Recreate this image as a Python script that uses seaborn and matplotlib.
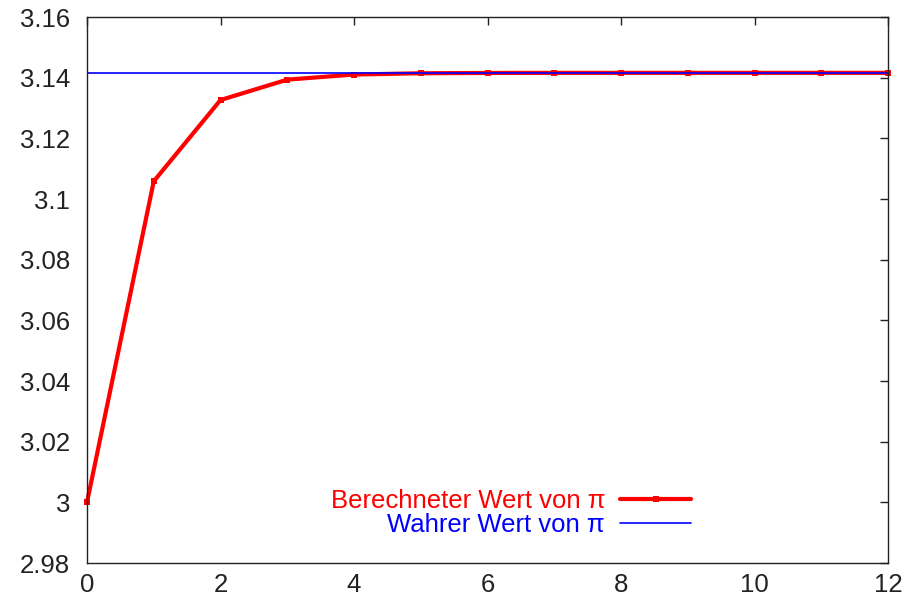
import matplotlib
matplotlib.use("Agg")
import matplotlib.pyplot as plt
import seaborn as sns
import numpy as np
import pandas as pd

steps = [0, 1, 2, 3, 4, 5, 6, 7, 8, 9, 10, 11, 12]
computed = [3.0, 3.105829, 3.132629, 3.139350, 3.141032, 3.141452, 3.141558,
            3.141584, 3.141590, 3.141592, 3.141593, 3.141593, 3.141593]
true_pi = [3.141593] * 13
yticks = [2.98, 3.0, 3.02, 3.04, 3.06, 3.08, 3.1, 3.12, 3.14, 3.16]
ytick_labels = ["2.98", "3", "3.02", "3.04", "3.06", "3.08", "3.1", "3.12", "3.14", "3.16"]
xticks = [0, 2, 4, 6, 8, 10, 12]

sns.set_style("white")
plt.rcParams['font.family'] = ['Liberation Sans', 'DejaVu Sans']

fig = plt.figure(figsize=(9.08, 6.0), dpi=100)
ax = fig.add_axes([87/908, 1-563/600, (888-87)/908, (563-17)/600])

df = pd.DataFrame({"n": steps, "computed": computed, "true": true_pi})
sns.lineplot(data=df, x="n", y="computed", ax=ax, color="#ff0000", linewidth=3,
             marker="s", markersize=5, markeredgewidth=0, label="Berechneter Wert von π",
             clip_on=False)
sns.lineplot(data=df, x="n", y="true", ax=ax, color="#0000ff", linewidth=1.2,
             label="Wahrer Wert von π")

ax.set_xlim(0, 12)
ax.set_ylim(2.98, 3.16)
ax.set_xticks(xticks)
ax.set_xticklabels([str(t) for t in xticks])
ax.set_yticks(yticks)
ax.set_yticklabels(ytick_labels)
ax.set_xlabel("")
ax.set_ylabel("")
ax.tick_params(direction="in", length=6, width=1, top=True, right=True,
               labelsize=18.5, colors="#222222")
ax.tick_params(axis="y", pad=12)
ax.tick_params(axis="x", pad=7)
for s in ax.spines.values():
    s.set_color("#222222")
    s.set_linewidth(1)
    s.set_visible(True)

leg = ax.legend(loc="lower right", bbox_to_anchor=(0.767, 0.028), frameon=False,
                markerfirst=False, fontsize=18.5, labelcolor="linecolor",
                handlelength=2.75, handletextpad=0.6, labelspacing=0.0,
                borderaxespad=0)

fig.savefig("out.png", dpi=100)
